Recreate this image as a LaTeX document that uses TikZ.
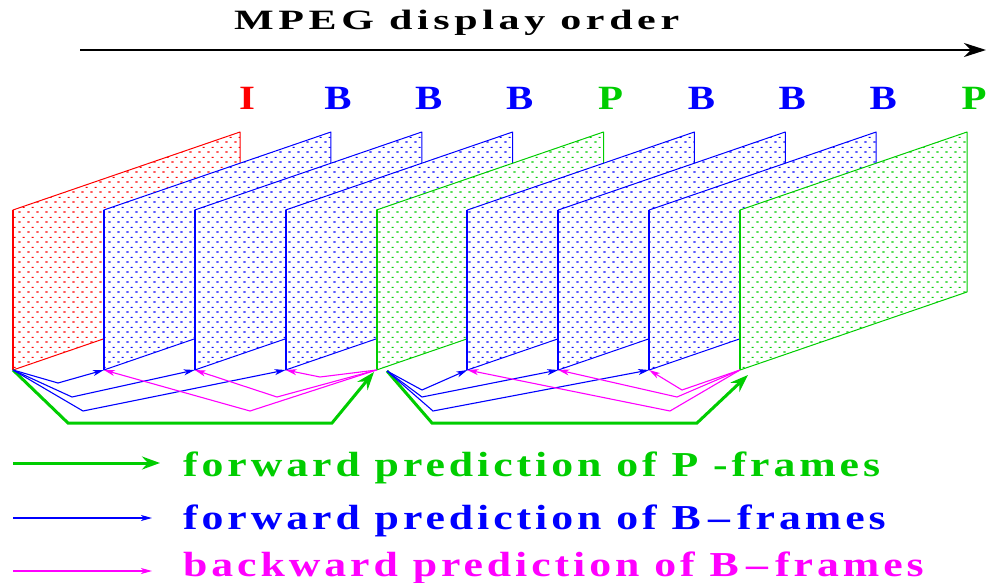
\documentclass[tikz,border=0pt]{standalone}
\usepackage{fontspec}
\setmainfont{Liberation Serif}
\usetikzlibrary{arrows.meta,patterns.meta}
\definecolor{fgreen}{RGB}{0,205,0}
\definecolor{fblue}{RGB}{0,0,255}
\definecolor{fred}{RGB}{255,0,0}
\definecolor{fmag}{RGB}{255,0,255}
\tikzdeclarepattern{
  name=framedots,
  type=uncolored,
  bounding box={(0pt,0pt) and (9pt,10pt)},
  tile size={(9pt,10pt)},
  code={
    \fill (0.5pt,0.5pt) rectangle (2.9pt,1.8pt);
    \fill (5pt,5.5pt) rectangle (7.4pt,6.8pt);
  }
}
\begin{document}
\begin{tikzpicture}[x=1pt,y=-1pt,
  framebox/.style={draw=#1, line width=1pt, line join=round, fill=white,
    postaction={pattern=framedots, pattern color=#1}},
  lbl/.style={text=#1, font=\fontsize{34}{34}\selectfont\bfseries, anchor=base, inner sep=0pt},
  thinarr/.style={draw=#1, line width=1.1pt, -{Stealth[length=11pt,width=6pt,inset=3pt]}},
  greenarr/.style={draw=fgreen, line width=3pt, line join=miter, -{Stealth[length=18pt,width=13pt,inset=6pt]}},
  legtext/.style={text=#1, anchor=base west, inner sep=0pt,
    font=\fontsize{35}{35}\selectfont\bfseries\addfontfeature{LetterSpace=9}},
]
\path[use as bounding box] (0,0) rectangle (993,583);

% title
\node[anchor=base west, inner sep=0pt, font=\fontsize{28}{28}\selectfont\bfseries\addfontfeature{LetterSpace=11}] (title) at (234,30) {\scalebox{1.5}[1]{MPEG display order}};
\coordinate (ts) at (80,50);
\coordinate (te) at (986,50);
\draw[line width=2.6pt, -{Stealth[length=22pt,width=14pt,inset=7pt]}] (ts) -- (te);

% frames
\foreach \k/\c/\t in {0/fred/I,1/fblue/B,2/fblue/B,3/fblue/B,4/fgreen/P,5/fblue/B,6/fblue/B,7/fblue/B,8/fgreen/P}{
  \pgfmathsetmacro{\L}{13+90.875*\k}
  \path[framebox=\c] (\L,370) -- (\L,210) -- (\L+227,132) -- (\L+227,292) -- cycle;
  \draw[\c, line width=2pt] (\L,370) -- (\L,210);
  \coordinate (b\k) at (\L,370);
  \node[lbl=\c] (t\k) at (\L+234,110) {\scalebox{1.2}[1]{\t}};
}

% group 1 predictions
\draw[greenarr] (b0) -- (68,423) -- (332,423) -- (374,372);
\draw[thinarr=fblue] (b0) -- (58,383) -- (b1);
\draw[thinarr=fblue] (b0) -- (72,397) -- (b2);
\draw[thinarr=fblue] (b0) -- (83,411) -- (b3);
\draw[thinarr=fmag] (b4) -- (320,377) -- (b3);
\draw[thinarr=fmag] (b4) -- (277,397) -- (b2);
\draw[thinarr=fmag] (b4) -- (250,411) -- (b1);

% group 2 predictions
\coordinate (s2) at (387,371);
\draw[greenarr] (s2) -- (432,423) -- (697,423) -- (748,375);
\draw[thinarr=fblue] (s2) -- (422,390) -- (b5);
\draw[thinarr=fblue] (s2) -- (422,397) -- (b6);
\draw[thinarr=fblue] (s2) -- (433,411) -- (b7);
\draw[thinarr=fmag] (b8) -- (682,390) -- (b7);
\draw[thinarr=fmag] (b8) -- (677,397) -- (b6);
\draw[thinarr=fmag] (b8) -- (670,411) -- (b5);

% legend
\coordinate (l1a) at (13,463); \coordinate (l1b) at (160,463);
\coordinate (l2a) at (13,518); \coordinate (l2b) at (152,518);
\coordinate (l3a) at (13,571); \coordinate (l3b) at (152,571);
\draw[greenarr] (l1a) -- (l1b);
\draw[thinarr=fblue] (l2a) -- (l2b);
\draw[thinarr=fmag] (l3a) -- (l3b);
\node[legtext=fgreen] (g1) at (183,476) {\scalebox{1.25}[1]{forward prediction of P -frames}};
\node[legtext=fblue] (g2) at (183,529) {\scalebox{1.25}[1]{forward prediction of B\,--\,frames}};
\node[legtext=fmag] (g3) at (183,576) {\scalebox{1.25}[1]{backward prediction of B\,--\,frames}};
\end{tikzpicture}
\end{document}
